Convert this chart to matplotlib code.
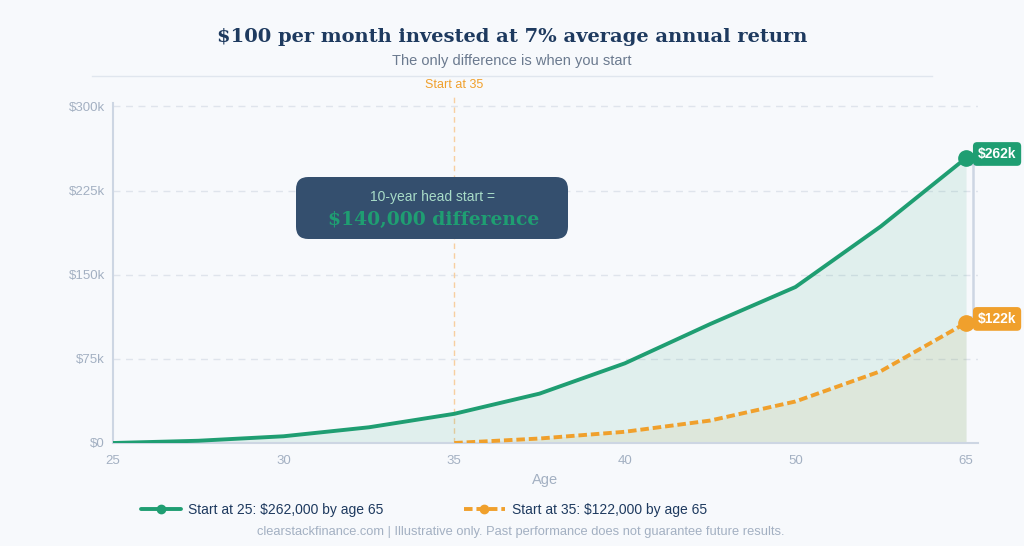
import matplotlib
matplotlib.use('Agg')
import matplotlib.pyplot as plt
from matplotlib.patches import FancyBboxPatch
import numpy as np

# data (values in $k), x positions are category steps on the age axis
steps_25 = [0, 0.5, 1, 1.5, 2, 2.5, 3, 3.5, 4, 4.5, 5]
value_25 = [0, 2, 6, 14, 26, 44, 71, 106, 139, 193, 254]
steps_35 = [2, 2.5, 3, 3.5, 4, 4.5, 5]
value_35 = [0, 4, 10, 20, 37, 64, 107]
age_ticks = [25, 30, 35, 40, 50, 65]
y_ticks = [0, 75, 150, 225, 300]
y_labels = ['$0', '$75k', '$150k', '$225k', '$300k']
legend_labels = ['Start at 25: $262,000 by age 65', 'Start at 35: $122,000 by age 65']
end_labels = ['$262k', '$122k']

GREEN = '#1f9e72'
ORANGE = '#f0a02c'
NAVY = '#1e3a5f'
BG = '#f7f9fc'
TICK = '#a3b0c2'

sans = ['Liberation Sans', 'DejaVu Sans']
serif = ['DejaVu Serif']

fig = plt.figure(figsize=(10.24, 5.46), dpi=100, facecolor=BG)
ax = fig.add_axes([113/1024, 1-443/546, (978-113)/1024, 340/546])
ax.set_facecolor(BG)

ax.set_xlim(0, 5.07)
ax.set_ylim(0, 303)

# grid
for v in y_ticks[1:]:
    ax.axhline(v, color='#dfe4ec', lw=1, ls=(0, (5, 4)), zorder=0)

# start at 35 marker line
ax.axvline(2, color='#f7cfa0', lw=1, ls=(0, (4, 3)), ymax=1.02, clip_on=False, zorder=1)
ax.text(2, 1.035, 'Start at 35', transform=ax.get_xaxis_transform(), ha='center', va='bottom',
        color=ORANGE, fontsize=9, family=sans)

ax.fill_between(steps_25, value_25, color=GREEN, alpha=0.10, lw=0, zorder=2)
ax.fill_between(steps_35, value_35, color='#c8b060', alpha=0.12, lw=0, zorder=2)

l1, = ax.plot(steps_25, value_25, color=GREEN, lw=2.8, zorder=4, solid_capstyle='round')
l2, = ax.plot(steps_35, value_35, color=ORANGE, lw=2.8, ls=(0, (2.2, 1.0)), zorder=4)

ax.plot(steps_25[-1], value_25[-1], 'o', ms=11, color=GREEN, zorder=6, clip_on=False)
ax.plot(steps_35[-1], value_35[-1], 'o', ms=11, color=ORANGE, zorder=6, clip_on=False)

# bracket between end values
bx = steps_25[-1] + 0.04
ax.plot([bx, bx], [value_25[-1] - 5, value_35[-1] + 5], color='#cdd6e3', lw=1.8, zorder=5, clip_on=False)
for v in [value_25[-1] - 5, value_35[-1] + 5]:
    ax.plot([steps_25[-1], bx + 0.04], [v, v], color='#cdd6e3', lw=1.8, zorder=5, clip_on=False)

for val, lab, col in [(value_25[-1], end_labels[0], GREEN), (value_35[-1], end_labels[1], ORANGE)]:
    ax.annotate(lab, (steps_25[-1], val), xytext=(31, 4), textcoords='offset pixels',
                ha='center', va='center', color='white', fontsize=10, fontweight='bold', family=sans,
                bbox=dict(boxstyle='round,pad=0.35,rounding_size=0.3', fc=col, ec='none'), zorder=7,
                annotation_clip=False)

# axes styling
for s in ['top', 'right']:
    ax.spines[s].set_visible(False)
ax.spines['left'].set_color('#cdd6e3')
ax.spines['bottom'].set_color('#cdd6e3')
ax.spines['left'].set_linewidth(1.5)
ax.spines['bottom'].set_linewidth(1.5)
ax.set_xticks(range(len(age_ticks)))
ax.set_xticklabels([str(a) for a in age_ticks], family=sans, fontsize=9.5, color=TICK)
ax.set_yticks(y_ticks)
ax.set_yticklabels(y_labels, family=sans, fontsize=9.5, color=TICK)
ax.tick_params(axis='y', length=0, pad=6)
ax.tick_params(axis='x', length=0, pad=9)
ax.set_xlabel('Age', family=sans, fontsize=10.5, color=TICK, labelpad=4)

# title block
fig.text(0.5, 1-37/546, '$100 per month invested at 7% average annual return', ha='center', va='center',
         family=serif, fontweight='bold', fontsize=14, color=NAVY)
fig.text(0.5, 1-61/546, 'The only difference is when you start', ha='center', va='center',
         family=sans, fontsize=10.5, color='#6b7a8f')
fig.add_artist(plt.Line2D([92/1024, 932/1024], [1-76/546, 1-76/546], color='#e0e6ee', lw=1))

# callout box
box = FancyBboxPatch((296/1024, 1-239/546), 272/1024, 62/546, transform=fig.transFigure,
                     boxstyle='round,pad=0,rounding_size=0.012', fc='#344f6e', ec='none',
                     mutation_aspect=1024/546, zorder=8)
fig.add_artist(box)
fig.text(432/1024, 1-197/546, '10-year head start =', ha='center', va='center', family=sans,
         fontsize=10, color='#a8dcc8', zorder=9)
fig.text(434/1024, 1-220/546, '$140,000 difference', ha='center', va='center', family=serif,
         fontweight='bold', fontsize=13.5, color=GREEN, zorder=9)

# legend
leg = fig.legend([l1, l2], legend_labels, loc='center left', bbox_to_anchor=(128/1024, 1-510/546),
                 ncol=2, frameon=False, columnspacing=5.8, handlelength=2.9, handletextpad=0.55,
                 prop={'family': sans, 'size': 10})
for t in leg.get_texts():
    t.set_color(NAVY)
for h, c in zip(leg.legend_handles, [GREEN, ORANGE]):
    h.set_marker('o')
    h.set_markersize(6)
    h.set_markerfacecolor(c)
    h.set_markeredgecolor(c)

fig.text(0.509, 1-532/546, 'clearstackfinance.com | Illustrative only. Past performance does not guarantee future results.',
         ha='center', va='center', family=sans, fontsize=9.3, color='#a3b0c2')

fig.savefig('out.png', dpi=100, facecolor=BG)
